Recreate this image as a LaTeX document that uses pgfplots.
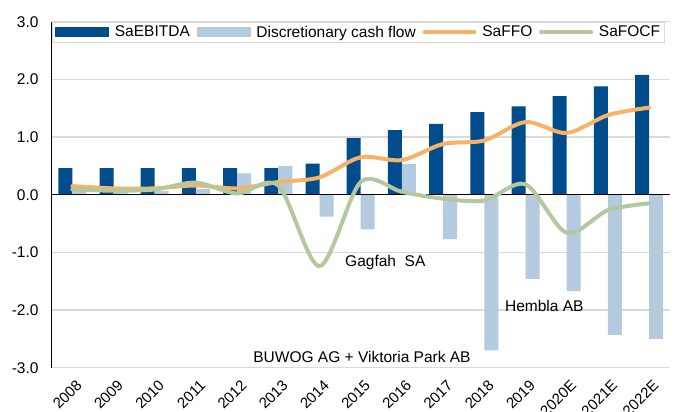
\documentclass[border=0pt]{standalone}
\usepackage{pgfplots}
\pgfplotsset{compat=1.18}
\usepackage{pgfplotstable}
\usepackage{fontspec}
\setmainfont{Liberation Sans}
\definecolor{ebit}{RGB}{0,76,140}
\definecolor{dcf}{RGB}{180,202,223}
\definecolor{ffo}{RGB}{246,178,102}
\definecolor{focf}{RGB}{180,200,160}
\definecolor{gridc}{RGB}{217,217,217}

\pgfplotstableread{
x ebitda dcf ffo focf
0 0.46 0.08 0.15 0.09
1 0.46 0.05 0.11 0.07
2 0.46 0.06 0.11 0.09
3 0.46 0.10 0.16 0.21
4 0.46 0.37 0.11 0.02
5 0.46 0.50 0.22 0.16
6 0.54 -0.38 0.30 -1.24
7 0.98 -0.60 0.65 0.22
8 1.12 0.53 0.60 0.05
9 1.23 -0.77 0.88 -0.07
10 1.43 -2.70 0.94 -0.10
11 1.53 -1.46 1.26 0.18
12 1.71 -1.67 1.07 -0.66
13 1.88 -2.43 1.38 -0.27
14 2.08 -2.50 1.51 -0.15
}\datatable

\begin{document}
\begin{tikzpicture}[font=\fontsize{15.5bp}{18bp}\selectfont]
\begin{axis}[
  scale only axis, width=618bp, height=346bp,
  xmin=-0.5, xmax=14.5, ymin=-3, ymax=3,
  axis lines*=left,
  axis line style={-, line width=1.2bp, black},
  x axis line style={draw=none},
  xtick={0,...,14},
  xticklabels={2008,2009,2010,2011,2012,2013,2014,2015,2016,2017,2018,2019,2020E,2021E,2022E},
  ytick={-3,-2,-1,0,1,2,3},
  major tick length=0pt,
  ymajorgrids, grid style={gridc, line width=1.2bp},
  yticklabel style={/pgf/number format/fixed, /pgf/number format/fixed zerofill, /pgf/number format/precision=1, /pgf/number format/assume math mode=true, inner sep=0pt, anchor=east, xshift=-13bp, font=\fontsize{15.5bp}{18bp}\selectfont},
  xticklabel style={xshift=3bp, yshift=-11bp, rotate=45, anchor=north east, inner sep=0pt, font=\fontsize{15bp}{18bp}\selectfont},
  legend columns=4,
  legend cell align=left,
  legend style={at={(0,1)}, anchor=north west, fill=white, draw=gridc, line width=0.8bp,
    inner xsep=3bp, inner ysep=3bp, column sep=5bp,
    /tikz/every even column/.append style={column sep=6bp},
    nodes={inner sep=0.8bp}, font=\fontsize{15.5bp}{18bp}\selectfont},
]
\addplot[ybar, bar width=14bp, bar shift=-7bp, fill=ebit, draw=none,
  legend image code/.code={\fill[ebit] (0bp,-5bp) rectangle (54bp,5bp);}]
  table[x=x,y=ebitda]{\datatable};
\addlegendentry{SaEBITDA}
\addplot[ybar, bar width=14bp, bar shift=7bp, fill=dcf, draw=none,
  legend image code/.code={\fill[dcf] (0bp,-5bp) rectangle (54bp,5bp);}]
  table[x=x,y=dcf]{\datatable};
\addlegendentry{Discretionary cash flow}
\draw[black, line width=1.2bp] (axis cs:-0.5,0) -- (axis cs:14.5,0);
\addplot[smooth, no marks, ffo, line width=4bp, line cap=round, line join=round,
  legend image code/.code={\draw[ffo, line width=4bp, line cap=round] (2bp,0bp) -- (52bp,0bp);}]
  table[x=x,y=ffo]{\datatable};
\addlegendentry{SaFFO}
\addplot[smooth, no marks, focf, line width=4bp, line cap=round, line join=round,
  legend image code/.code={\draw[focf, line width=4bp, line cap=round] (2bp,0bp) -- (52bp,0bp);}]
  table[x=x,y=focf]{\datatable};
\addlegendentry{SaFOCF}
\node[anchor=west, inner sep=0pt] at (axis cs:6.62,-1.17) {Gagfah~~SA};
\node[anchor=west, inner sep=0pt] at (axis cs:10.5,-1.93) {Hembla AB};
\node[anchor=west, inner sep=0pt] at (axis cs:4.39,-2.82) {BUWOG AG + Viktoria Park AB};
\end{axis}
\pgfresetboundingbox
\path[use as bounding box] (-51.7bp,-44.3bp) rectangle (622.3bp,367.7bp);
\end{tikzpicture}
\end{document}
